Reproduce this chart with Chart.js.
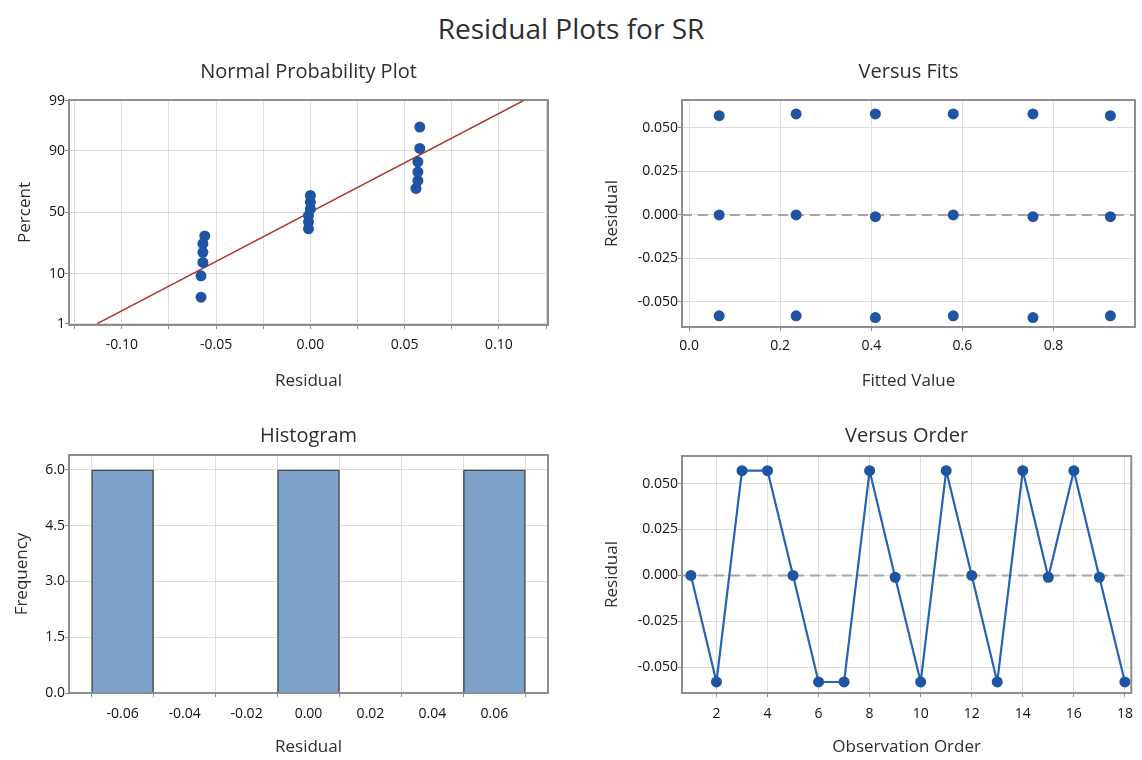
<!DOCTYPE html>
<html>
<head>
<meta charset="utf-8">
<script src="https://cdn.jsdelivr.net/npm/chart.js@4.4.1/dist/chart.umd.min.js"></script>
<style>
  body { margin: 0; background: #fff; width: 1142px; height: 760px; position: relative; overflow: hidden; font-family: "Open Sans", sans-serif; }
  #title { position: absolute; left: 0; top: 8px; width: 1142px; text-align: center; font-size: 28px; line-height: 40px; color: #2e2e2e; }
  .panel { position: absolute; }
</style>
</head>
<body>
<div id="title">Residual Plots for SR</div>
<canvas id="npp" class="panel" width="571" height="345" style="left:0;top:55px"></canvas>
<canvas id="fits" class="panel" width="571" height="345" style="left:571px;top:55px"></canvas>
<canvas id="hist" class="panel" width="571" height="350" style="left:0;top:410px"></canvas>
<canvas id="order" class="panel" width="571" height="350" style="left:571px;top:410px"></canvas>
<script>
// ---- data ----
const nppResid = [-0.058, -0.058, -0.057, -0.057, -0.057, -0.056, -0.001, -0.001, -0.001, 0.000, 0.000, 0.000, 0.056, 0.057, 0.057, 0.057, 0.058, 0.058];
const nppPercent = [3.8, 9.2, 14.7, 20.1, 25.5, 31.0, 36.4, 41.8, 47.3, 52.7, 58.2, 63.6, 69.0, 74.5, 79.9, 85.3, 90.8, 96.2];
const fitLineX = [-0.113, 0.113];
const fitLineP = [1, 99];

const fitsX = [0.066, 0.235, 0.409, 0.580, 0.755, 0.925];
const fitsResHigh = [0.057, 0.058, 0.058, 0.058, 0.058, 0.057];
const fitsResMid = [0.000, 0.000, -0.001, 0.000, -0.001, -0.001];
const fitsResLow = [-0.058, -0.058, -0.059, -0.058, -0.059, -0.058];

const histMid = [-0.06, 0.00, 0.06];
const histFreq = [6, 6, 6];

const obsOrder = [1, 2, 3, 4, 5, 6, 7, 8, 9, 10, 11, 12, 13, 14, 15, 16, 17, 18];
const orderResid = [0.000, -0.058, 0.057, 0.057, 0.000, -0.058, -0.058, 0.057, -0.001, -0.058, 0.057, 0.000, -0.058, 0.057, -0.001, 0.057, -0.001, -0.058];

// ---- tick labels ----
const nppXGrid = [-0.125, -0.1, -0.075, -0.05, -0.025, 0, 0.025, 0.05, 0.075, 0.1, 0.125];
const nppXLabels = [-0.1, -0.05, 0, 0.05, 0.1];
const nppYTicks = [1, 10, 50, 90, 99];
const fitsXTicks = [0, 0.2, 0.4, 0.6, 0.8];
const residTicks = [-0.05, -0.025, 0, 0.025, 0.05];
const histXTicks = [-0.06, -0.04, -0.02, 0, 0.02, 0.04, 0.06];
const histYTicks = [0, 1.5, 3, 4.5, 6];
const orderXTicks = [2, 4, 6, 8, 10, 12, 14, 16, 18];

const FONT = '"Open Sans", sans-serif';
const DOT = '#1f54a3';
const LINE = '#2563b5';

// inverse normal cdf, used as the probability-scale transform
function normInv(p) {
  const a = [-39.69683028665376, 220.9460984245205, -275.9285104469687, 138.3577518672690, -30.66479806614716, 2.506628277459239];
  const b = [-54.47609879822406, 161.5858368580409, -155.6989798598866, 66.80131188771972, -13.28068155288572];
  const c = [-0.007784894002430293, -0.3223964580411365, -2.400758277161838, -2.549732539343734, 4.374664141464968, 2.938163982698783];
  const d = [0.007784695709041462, 0.3224671290700398, 2.445134137142996, 3.754408661907416];
  const pl = 0.02425;
  let q, r;
  if (p < pl) {
    q = Math.sqrt(-2 * Math.log(p));
    return (((((c[0]*q+c[1])*q+c[2])*q+c[3])*q+c[4])*q+c[5]) / ((((d[0]*q+d[1])*q+d[2])*q+d[3])*q+1);
  }
  if (p > 1 - pl) {
    q = Math.sqrt(-2 * Math.log(1 - p));
    return -(((((c[0]*q+c[1])*q+c[2])*q+c[3])*q+c[4])*q+c[5]) / ((((d[0]*q+d[1])*q+d[2])*q+d[3])*q+1);
  }
  q = p - 0.5; r = q * q;
  return (((((a[0]*r+a[1])*r+a[2])*r+a[3])*r+a[4])*r+a[5])*q / (((((b[0]*r+b[1])*r+b[2])*r+b[3])*r+b[4])*r+1);
}

// panel title centred over the plot area
const panelTitle = {
  id: 'panelTitle',
  afterDraw(chart, args, opts) {
    const {ctx, chartArea} = chart;
    ctx.save();
    ctx.font = '20px ' + FONT;
    ctx.fillStyle = '#2e2e2e';
    ctx.textAlign = 'center';
    ctx.textBaseline = 'middle';
    ctx.fillText(opts.text, (chartArea.left + chartArea.right) / 2, opts.y);
    ctx.restore();
  }
};

// grey frame round the plot, plus optional dashed zero line
const frame = {
  id: 'frame',
  beforeDatasetsDraw(chart, args, opts) {
    const {ctx, chartArea: a} = chart;
    ctx.save();
    if (opts.zeroLine) {
      const y = chart.scales.y.getPixelForValue(0);
      ctx.strokeStyle = '#a6a6a6';
      ctx.lineWidth = 2;
      ctx.setLineDash([10, 6]);
      ctx.beginPath();
      ctx.moveTo(a.left, y);
      ctx.lineTo(a.right, y);
      ctx.stroke();
      ctx.setLineDash([]);
    }
    ctx.strokeStyle = '#8e8e8e';
    ctx.lineWidth = 2;
    ctx.strokeRect(a.left, a.top, a.right - a.left, a.bottom - a.top);
    ctx.restore();
  }
};

function xAxis(min, max, ticks, fmt, title, height, tickPad, titlePad) {
  return {
    type: 'linear', min: min, max: max, offset: false,
    afterBuildTicks: s => { s.ticks = ticks.map(v => ({value: v})); },
    afterFit: s => { s.height = height; },
    grid: { color: '#dddddd', lineWidth: 1, tickLength: 4, tickColor: '#8e8e8e' },
    border: { display: false },
    ticks: { color: '#111', font: { family: FONT, size: 14 }, padding: tickPad, maxRotation: 0, autoSkip: false, callback: fmt },
    title: { display: true, text: title, color: '#2e2e2e', font: { family: FONT, size: 17 }, padding: { top: 0, bottom: titlePad } }
  };
}

function yAxis(min, max, ticks, fmt, title, width, titlePad) {
  return {
    type: 'linear', min: min, max: max,
    afterBuildTicks: s => { s.ticks = ticks.map(v => ({value: v})); },
    afterFit: s => { s.width = width; },
    grid: { color: '#dddddd', lineWidth: 1, tickLength: 4, tickColor: '#8e8e8e' },
    border: { display: false },
    ticks: { color: '#111', font: { family: FONT, size: 14 }, padding: 0, autoSkip: false, callback: fmt },
    title: { display: true, text: title, color: '#2e2e2e', font: { family: FONT, size: 17 }, padding: { top: titlePad, bottom: 0 } }
  };
}

const base = {
  responsive: false,
  animation: false,
  events: [],
  plugins: { legend: { display: false }, tooltip: { enabled: false } }
};

// Normal probability plot
new Chart(document.getElementById('npp'), {
  type: 'scatter',
  data: {
    datasets: [
      {
        data: nppResid.map((r, i) => ({x: r, y: normInv(nppPercent[i] / 100)})),
        backgroundColor: DOT, borderColor: DOT, pointRadius: 5.5, pointBorderWidth: 0
      },
      {
        type: 'line',
        data: fitLineX.map((x, i) => ({x: x, y: normInv(fitLineP[i] / 100)})),
        borderColor: '#b3302c', borderWidth: 1.6, pointRadius: 0, fill: false
      }
    ]
  },
  options: Object.assign({}, base, {
    layout: { padding: { top: 45, right: 23, left: 0, bottom: 0 } },
    scales: {
      x: xAxis(-0.128, 0.126, nppXGrid,
        v => nppXLabels.some(l => Math.abs(l - v) < 1e-9) ? v.toFixed(2) : '',
        'Residual', 75, 8, 9),
      y: yAxis(-2.355, 2.34, nppYTicks.map(p => normInv(p / 100)),
        (v, i) => String(nppYTicks[i]), 'Percent', 69, 15)
    },
    plugins: Object.assign({}, base.plugins, { panelTitle: { text: 'Normal Probability Plot', y: 17 }, frame: {} })
  }),
  plugins: [panelTitle, frame]
});

// Versus fits
const fitsPoints = [];
fitsX.forEach((x, i) => {
  fitsPoints.push({x: x, y: fitsResHigh[i]});
  fitsPoints.push({x: x, y: fitsResMid[i]});
  fitsPoints.push({x: x, y: fitsResLow[i]});
});
new Chart(document.getElementById('fits'), {
  type: 'scatter',
  data: {
    datasets: [{ data: fitsPoints, backgroundColor: DOT, borderColor: DOT, pointRadius: 5.5, pointBorderWidth: 0 }]
  },
  options: Object.assign({}, base, {
    layout: { padding: { top: 45, right: 7, left: 0, bottom: 0 } },
    scales: {
      x: xAxis(-0.0156, 0.979, fitsXTicks, v => v.toFixed(1), 'Fitted Value', 73, 7, 9),
      y: yAxis(-0.0644, 0.066, residTicks, v => v.toFixed(3), 'Residual', 111, 31)
    },
    plugins: Object.assign({}, base.plugins, { panelTitle: { text: 'Versus Fits', y: 17 }, frame: { zeroLine: true } })
  }),
  plugins: [panelTitle, frame]
});

// Histogram
new Chart(document.getElementById('hist'), {
  type: 'bar',
  data: {
    datasets: [{
      data: histMid.map((m, i) => ({x: m, y: histFreq[i]})),
      backgroundColor: '#7da3cb', borderColor: '#4a4a4a', borderWidth: 1.5,
      barPercentage: 1, categoryPercentage: 1
    }]
  },
  options: Object.assign({}, base, {
    layout: { padding: { top: 45, right: 23, left: 0, bottom: 0 } },
    scales: {
      x: xAxis(-0.0773, 0.0773, histXTicks, v => v.toFixed(2), 'Residual', 67, 9, 3),
      y: yAxis(0, 6.4, histYTicks, v => v.toFixed(1), 'Frequency', 69, 12)
    },
    plugins: Object.assign({}, base.plugins, { panelTitle: { text: 'Histogram', y: 26 }, frame: {} })
  }),
  plugins: [panelTitle, frame]
});

// Versus order
new Chart(document.getElementById('order'), {
  type: 'line',
  data: {
    datasets: [{
      data: obsOrder.map((o, i) => ({x: o, y: orderResid[i]})),
      borderColor: LINE, borderWidth: 2.2, backgroundColor: DOT,
      pointBackgroundColor: DOT, pointBorderWidth: 0, pointRadius: 5.5, tension: 0, fill: false
    }]
  },
  options: Object.assign({}, base, {
    layout: { padding: { top: 46, right: 7, left: 0, bottom: 0 } },
    scales: {
      x: xAxis(0.65, 18.25, orderXTicks, v => String(v), 'Observation Order', 67, 9, 3),
      y: yAxis(-0.064, 0.065, residTicks, v => v.toFixed(3), 'Residual', 111, 31)
    },
    plugins: Object.assign({}, base.plugins, { panelTitle: { text: 'Versus Order', y: 26 }, frame: { zeroLine: true } })
  }),
  plugins: [panelTitle, frame]
});
</script>
</body>
</html>
